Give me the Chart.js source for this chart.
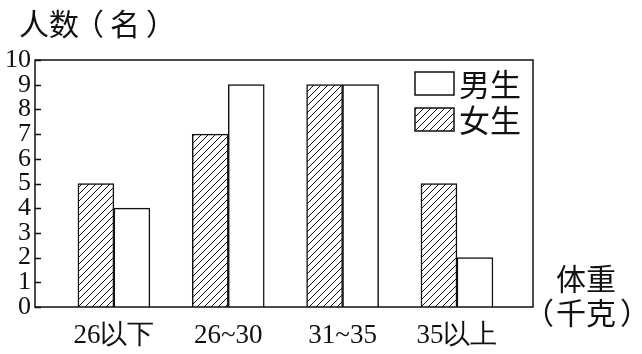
<!DOCTYPE html>
<html>
<head>
<meta charset="utf-8">
<script src="https://cdn.jsdelivr.net/npm/chart.js@4"></script>
<style>
    html, body { margin: 0; padding: 0; background: #fff; }
    #wrap { width: 642px; height: 354px; }
    #warm { position: absolute; left: -999px; top: 0; font-family: 'Liberation Serif'; font-size: 26px; }
</style>
</head>
<body>
<div id="warm">0123456789 26以下</div>
<div id="wrap"><canvas id="weight_chart" width="642" height="354"></canvas></div>
<script>

// data
const categories = ['26以下', '26~30', '31~35', '35以上'];
const girls = [5, 7, 9, 5];
const boys = [4, 9, 9, 2];
const yTicks = [0, 1, 2, 3, 4, 5, 6, 7, 8, 9, 10];

const serifFont = 'Liberation Serif';
const cjkFont = "'Noto Sans CJK SC', sans-serif";

Chart.defaults.font.family = serifFont;
Chart.defaults.color = '#111';

// diagonal hatch for the girls bars
function hatch() {
    const c = document.createElement('canvas');
    c.width = 7;
    c.height = 7;
    const g = c.getContext('2d');
    g.fillStyle = '#fff';
    g.fillRect(0, 0, 7, 7);
    g.strokeStyle = '#111';
    g.lineWidth = 1;
    g.beginPath();
    g.moveTo(-1, 8); g.lineTo(8, -1);
    g.moveTo(-1, 1); g.lineTo(1, -1);
    g.moveTo(6, 8); g.lineTo(8, 6);
    g.stroke();
    return g.createPattern(c, 'repeat');
}

const hatchFill = hatch();

function putText(ctx, text, x, y, align) {
    ctx.textAlign = align;
    ctx.fillText(text, x, y);
}

const frame = {
    id: 'frame',
    afterDatasetsDraw(chart) {
        const ctx = chart.ctx;
        const a = chart.chartArea;
        const y = chart.scales.y;
        ctx.save();
        ctx.strokeStyle = '#111';
        ctx.lineWidth = 1.5;
        ctx.strokeRect(a.left, a.top, a.right - a.left, a.bottom - a.top);
        // inside tick marks
        ctx.beginPath();
        yTicks.forEach(v => {
            const py = Math.round(y.getPixelForValue(v)) + 0.5;
            ctx.moveTo(a.left, py);
            ctx.lineTo(a.left + 6, py);
        });
        ctx.stroke();

        // legend (boys first)
        const items = [
            { text: '男生', fill: '#fff' },
            { text: '女生', fill: hatchFill }
        ];
        ctx.font = '31px ' + cjkFont;
        ctx.textBaseline = 'middle';
        items.forEach((it, i) => {
            const top = 72 + i * 36;
            ctx.fillStyle = it.fill;
            ctx.fillRect(415, top, 39, 23);
            ctx.lineWidth = 1.5;
            ctx.strokeRect(415, top, 39, 23);
            ctx.fillStyle = '#111';
            putText(ctx, it.text, 459, top + 12, 'left');
        });

        // axis titles
        ctx.font = '30px ' + cjkFont;
        putText(ctx, '人数', 19, 24, 'left');
        putText(ctx, '（', 104, 24, 'right');
        putText(ctx, '名', 125, 24, 'center');
        putText(ctx, '）', 146, 24, 'left');

        putText(ctx, '体重', 586, 279, 'center');
        putText(ctx, '（', 554, 313, 'right');
        putText(ctx, '千克', 586, 313, 'center');
        putText(ctx, '）', 620, 313, 'left');
        ctx.restore();
    }
};

function weight_chart() {

    const data = {
        datasets: [{
            label: '女生',
            data: girls.map((v, i) => ({ x: i + 1, y: v })),
            backgroundColor: hatchFill,
            borderColor: '#111',
            borderWidth: 1.5,
            barThickness: 36
        }, {
            label: '男生',
            data: boys.map((v, i) => ({ x: i + 1, y: v })),
            backgroundColor: '#fff',
            borderColor: '#111',
            borderWidth: 1.5,
            barThickness: 36
        }]
    };

    const config = {
        type: 'bar',
        data: data,
        options: {
            responsive: false,
            animation: false,
            layout: { padding: { top: 60, right: 109, left: 0, bottom: 0 } },
            plugins: {
                legend: { display: false },
                tooltip: { enabled: false }
            },
            scales: {
                x: {
                    type: 'linear',
                    offset: false,
                    min: 0.31,
                    max: 4.665,
                    afterBuildTicks: s => { s.ticks = categories.map((c, i) => ({ value: i + 1 })); },
                    afterFit: s => { s.height = 47; },
                    grid: { display: false, drawTicks: false },
                    border: { display: false },
                    ticks: {
                        autoSkip: false,
                        maxRotation: 0,
                        padding: 13,
                        color: '#111',
                        font: { family: serifFont, size: 27 },
                        callback: v => categories[v - 1]
                    }
                },
                y: {
                    min: 0,
                    max: 10,
                    afterBuildTicks: s => { s.ticks = yTicks.map(v => ({ value: v })); },
                    afterFit: s => { s.width = 35; },
                    grid: { display: false, drawTicks: false },
                    border: { display: false },
                    ticks: {
                        autoSkip: false,
                        padding: 4,
                        color: '#111',
                        font: { family: serifFont, size: 26 }
                    }
                }
            }
        },
        plugins: [frame]
    };

    const myChart = new Chart(
        document.getElementById('weight_chart'),
        config
    );

    // redraw once the fonts are surely in
    document.fonts.ready.then(() => myChart.update('none'));
    setTimeout(() => myChart.update('none'), 50);
}

weight_chart();
</script>
</body>
</html>
